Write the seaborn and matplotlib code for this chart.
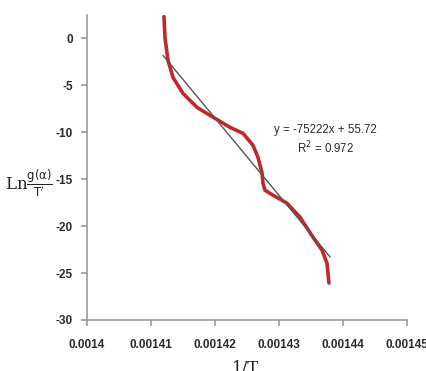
import numpy as np
import pandas as pd
import matplotlib
matplotlib.use("Agg")
import matplotlib.pyplot as plt
import seaborn as sns

# data
inv_t = [0.00141203, 0.00141219, 0.00141266, 0.00141344, 0.00141500, 0.00141719,
         0.00141922, 0.00142234, 0.00142438, 0.00142594, 0.00142672, 0.00142734,
         0.00142750, 0.00142781, 0.00142906, 0.00143125, 0.00143328, 0.00143531,
         0.00143672, 0.00143750, 0.00143781]
ln_g = [2.34, 0.11, -2.34, -4.15, -5.85, -7.34, -8.19, -9.47, -10.11, -11.38,
        -12.66, -14.26, -15.43, -16.17, -16.70, -17.55, -19.04, -21.17, -22.55,
        -23.94, -26.06]

# trend line end points
trend_x = [0.00141188, 0.00143800]
trend_y = [-1.8, -23.3]

x_ticks = [0.0014, 0.00141, 0.00142, 0.00143, 0.00144, 0.00145]
x_tick_labels = ["0.0014", "0.00141", "0.00142", "0.00143", "0.00144", "0.00145"]
y_ticks = [0, -5, -10, -15, -20, -25, -30]
y_tick_labels = ["0", "-5", "-10", "-15", "-20", "-25", "-30"]

eq_text = "y = -75222x + 55.72"
r2_text = "R$^2$ = 0.972"

sns.set_style("ticks")
plt.rcParams['font.family'] = ['Liberation Sans', 'DejaVu Sans']
plt.rcParams['axes.unicode_minus'] = False

fig = plt.figure(figsize=(4.27, 3.71), dpi=100)
ax = fig.add_axes([0.2037, 0.1375, 0.7494, 0.822])

df = pd.DataFrame({"x": inv_t, "y": ln_g})
sns.lineplot(data=df, x="x", y="y", sort=False, ax=ax, color="#c0282a", lw=2.6)
sns.lineplot(x=trend_x, y=trend_y, ax=ax, color="#555555", lw=1.0)

ax.set_xlim(0.0014, 0.00145)
ax.set_ylim(-30, 2.5)
ax.set_xticks(x_ticks)
ax.set_xticklabels(x_tick_labels)
ax.set_yticks(y_ticks)
ax.set_yticklabels(y_tick_labels)
ax.tick_params(axis="both", labelsize=8.5, labelcolor="#2a2a2a", color="#999999",
               length=4, width=1.2, direction="out")
ax.tick_params(axis="x", pad=10)
ax.tick_params(axis="y", pad=6)
for t in ax.get_xticklabels() + ax.get_yticklabels():
    t.set_fontweight("bold")

sns.despine(ax=ax)
for s in ["left", "bottom"]:
    ax.spines[s].set_color("#999999")
    ax.spines[s].set_linewidth(1.2)

ax.set_xlabel("")
ax.set_ylabel("")

ax.text(0.0014372, -9.8, eq_text, ha="center", va="center", fontsize=8.3, color="#2a2a2a")
ax.text(0.0014372, -11.7, r2_text, ha="center", va="center", fontsize=8.3, color="#2a2a2a")

fig.text(0.012, 0.505, r"Ln$\frac{\mathrm{g(\alpha)}}{\mathrm{T'}}$", fontsize=12,
         family="DejaVu Serif", ha="left", va="center", color="#222222")
fig.text(0.575, 0.03, "1/T", fontsize=12, family="DejaVu Serif",
         ha="center", va="top", color="#222222")

fig.savefig("out.png", dpi=100)
